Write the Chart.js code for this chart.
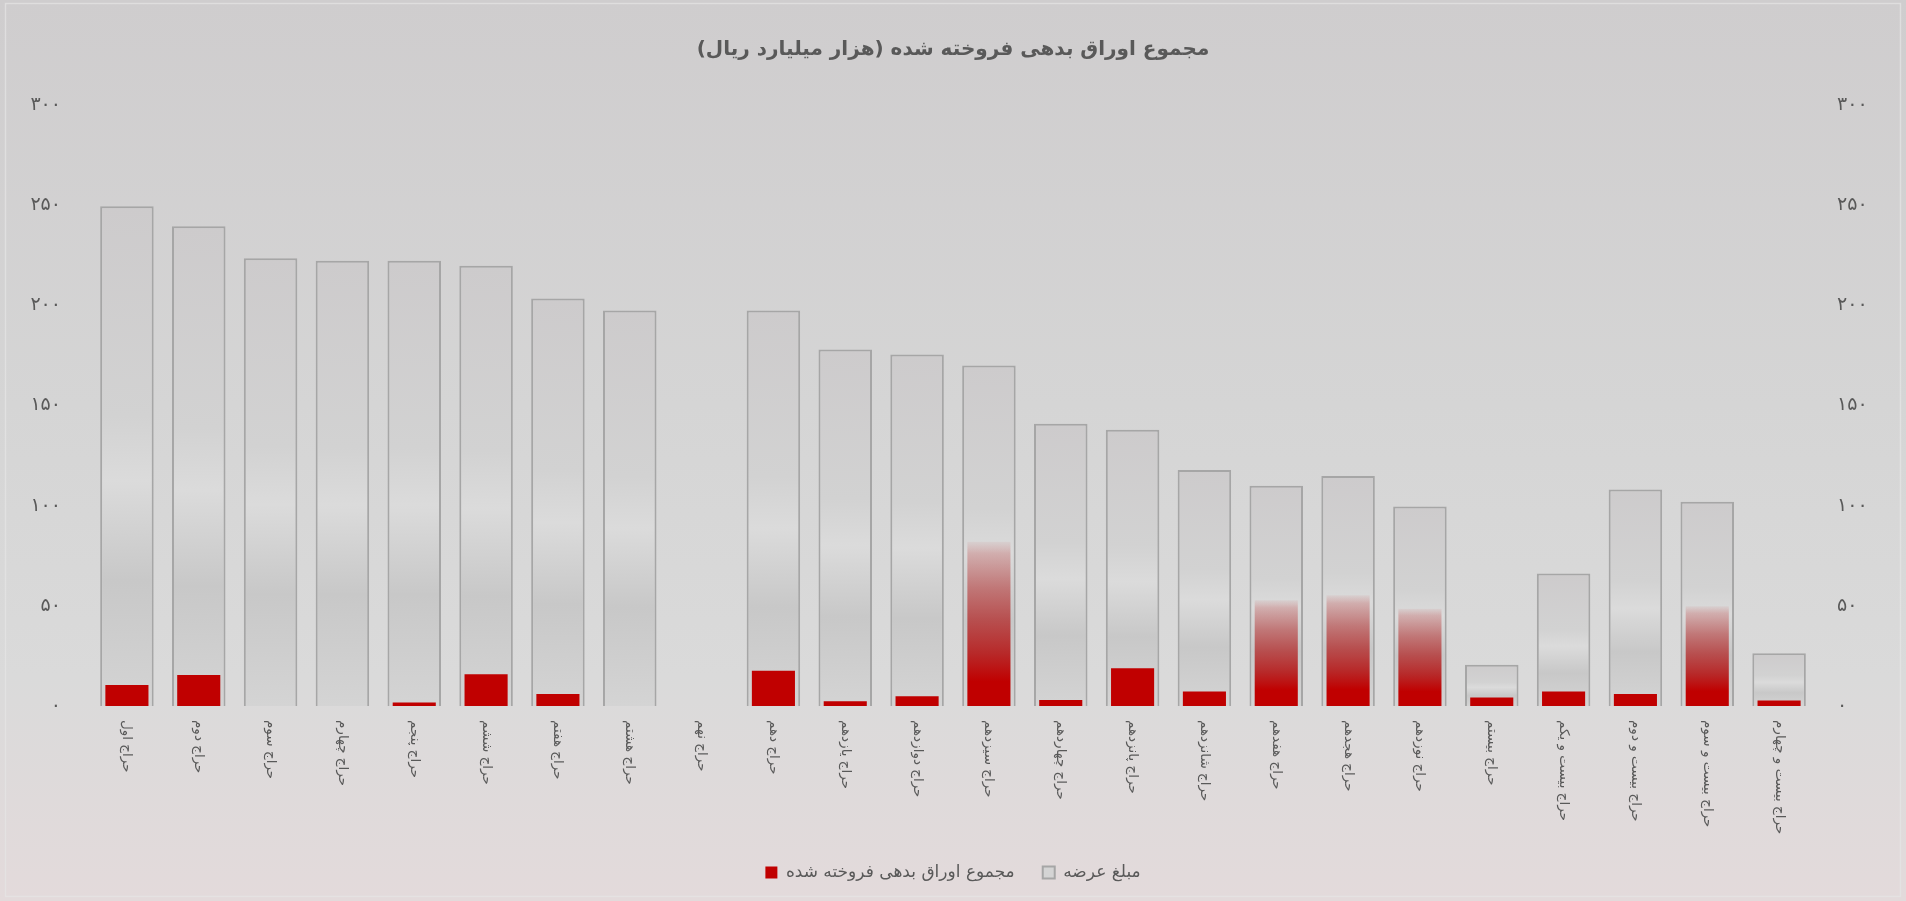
<!DOCTYPE html>
<html lang="fa">
<head>
    <meta charset="UTF-8">
    <title>مجموع اوراق بدهی فروخته شده</title>
    <script src="https://cdn.jsdelivr.net/npm/chart.js"></script>
    <style>
        body {
            margin: 0;
            padding: 0;
            background: #d6d5d5;
        }
        .container {
            width: 1906px;
            height: 901px;
        }
    </style>
</head>
<body>
    <div class="container">
        <canvas id="bondChart"></canvas>
    </div>

    <script>
        // auction names
        const categories = [
            'حراج اول', 'حراج دوم', 'حراج سوم', 'حراج چهارم', 'حراج پنجم', 'حراج ششم',
            'حراج هفتم', 'حراج هشتم', 'حراج نهم', 'حراج دهم', 'حراج یازدهم', 'حراج دوازدهم',
            'حراج سیزدهم', 'حراج چهاردهم', 'حراج پانزدهم', 'حراج شانزدهم', 'حراج هفدهم', 'حراج هجدهم',
            'حراج نوزدهم', 'حراج بیستم', 'حراج بیست و یکم', 'حراج بیست و دوم', 'حراج بیست و سوم', 'حراج بیست و چهارم'
        ];

        // مبلغ عرضه
        const offeredValues = [
            249.5, 239.5, 223.5, 222.3, 222.3, 219.8, 203.4, 197.4, null, 197.4, 177.9, 175.5,
            170, 140.9, 137.9, 117.8, 109.9, 114.8, 99.6, 20.6, 66.2, 108.1, 102, 26.3
        ];

        // مجموع اوراق بدهی فروخته شده
        const soldValues = [
            10.5, 15.5, 0, 0, 1.8, 15.8, 6, 0, 0, 17.6, 2.4, 4.9,
            82, 3, 18.8, 7.3, 52.8, 55.3, 48.6, 4.3, 7.3, 6, 49.8, 2.7
        ];

        const yTickLabels = ['۰', '۵۰', '۱۰۰', '۱۵۰', '۲۰۰', '۲۵۰', '۳۰۰'];

        const faFont = '"DejaVu Sans", "Noto Sans", sans-serif';
        const textColor = '#595959';

        function grayFill(c) {
            const chart = c.chart;
            if (c.type !== 'data' || !chart.chartArea || c.raw == null) return '#d0d0d0';
            const y = chart.scales.y;
            const top = y.getPixelForValue(c.raw);
            const bottom = y.getPixelForValue(0);
            const g = chart.ctx.createLinearGradient(0, top, 0, bottom);
            g.addColorStop(0, '#cdcbcc');
            g.addColorStop(0.42, '#d2d2d2');
            g.addColorStop(0.55, '#dbdbdb');
            g.addColorStop(0.75, '#c8c8c8');
            g.addColorStop(1, '#d4d4d4');
            return g;
        }

        function redFill(c) {
            const chart = c.chart;
            if (c.type !== 'data' || !chart.chartArea) return '#c00000';
            // the taller bars fade out towards their top
            if (c.raw < 30) return '#c00000';
            const y = chart.scales.y;
            const top = y.getPixelForValue(c.raw);
            const bottom = y.getPixelForValue(0);
            const g = chart.ctx.createLinearGradient(0, bottom, 0, top);
            g.addColorStop(0, 'rgba(192,0,0,1)');
            g.addColorStop(0.15, 'rgba(192,0,0,1)');
            g.addColorStop(0.32, 'rgba(180,14,14,0.86)');
            g.addColorStop(0.51, 'rgba(176,24,24,0.7)');
            g.addColorStop(0.72, 'rgba(176,30,30,0.5)');
            g.addColorStop(0.93, 'rgba(180,40,40,0.25)');
            g.addColorStop(1, 'rgba(190,60,60,0.06)');
            return g;
        }

        const backgroundPlugin = {
            id: 'background',
            beforeDraw(chart) {
                const ctx = chart.ctx;
                const g = ctx.createLinearGradient(0, 0, 0, chart.height);
                g.addColorStop(0, '#cfcdce');
                g.addColorStop(0.45, '#d5d5d5');
                g.addColorStop(0.75, '#dadada');
                g.addColorStop(1, '#e3dadb');
                ctx.save();
                ctx.fillStyle = g;
                ctx.fillRect(0, 0, chart.width, chart.height);
                ctx.strokeStyle = 'rgba(230,230,230,0.7)';
                ctx.lineWidth = 1.5;
                ctx.strokeRect(5.5, 3.5, chart.width - 11, chart.height - 8);
                ctx.restore();
            }
        };

        // x labels are turned clockwise, so they read downward from the axis
        const xLabelPlugin = {
            id: 'xLabels',
            afterDraw(chart) {
                const ctx = chart.ctx;
                const xScale = chart.scales.x;
                const top = chart.chartArea.bottom + 14;
                ctx.save();
                ctx.fillStyle = textColor;
                ctx.font = '13.5px ' + faFont;
                ctx.textAlign = 'left';
                ctx.textBaseline = 'middle';
                categories.forEach((label, i) => {
                    const x = xScale.getPixelForTick(i);
                    ctx.save();
                    ctx.translate(x, top);
                    ctx.rotate(Math.PI / 2);
                    ctx.fillText(label, 0, 0);
                    ctx.restore();
                });
                ctx.restore();
            }
        };

        const yTicks = {
            stepSize: 50,
            color: textColor,
            font: { family: faFont, size: 19 },
            callback: (value) => yTickLabels[value / 50]
        };

        const ctx = document.getElementById('bondChart').getContext('2d');
        const bondChart = new Chart(ctx, {
            type: 'bar',
            data: {
                labels: categories,
                datasets: [
                    {
                        label: 'مجموع اوراق بدهی فروخته شده',
                        data: soldValues,
                        backgroundColor: redFill,
                        borderWidth: 0,
                        barPercentage: 0.6,
                        categoryPercentage: 1,
                        grouped: false,
                        order: 0
                    },
                    {
                        label: 'مبلغ عرضه',
                        data: offeredValues,
                        backgroundColor: grayFill,
                        borderColor: '#a6a6a6',
                        borderWidth: 2,
                        borderSkipped: 'bottom',
                        barPercentage: 0.745,
                        categoryPercentage: 1,
                        grouped: false,
                        order: 1
                    }
                ]
            },
            options: {
                responsive: true,
                maintainAspectRatio: false,
                animation: false,
                layout: { padding: { left: 0, right: 0, top: 0, bottom: 10 } },
                plugins: {
                    title: {
                        display: true,
                        text: 'مجموع اوراق بدهی فروخته شده (هزار میلیارد ریال)',
                        color: textColor,
                        font: { family: faFont, size: 20, weight: 'bold' },
                        padding: { top: 38, bottom: 43 }
                    },
                    legend: {
                        position: 'bottom',
                        labels: {
                            color: textColor,
                            font: { family: faFont, size: 17 },
                            boxWidth: 12,
                            boxHeight: 12,
                            padding: 28
                        }
                    },
                    tooltip: { enabled: false }
                },
                scales: {
                    x: {
                        grid: { display: false, drawTicks: false },
                        border: { display: false },
                        ticks: { display: false },
                        afterFit(scale) { scale.height = 130; }
                    },
                    y: {
                        position: 'left',
                        min: 0,
                        max: 300,
                        grid: { display: false, drawTicks: false },
                        border: { display: false },
                        ticks: Object.assign({ padding: 30 }, yTicks),
                        afterFit(scale) { scale.width = 91; }
                    },
                    y2: {
                        position: 'right',
                        min: 0,
                        max: 300,
                        grid: { display: false, drawTicks: false },
                        border: { display: false },
                        ticks: Object.assign({ padding: 22 }, yTicks),
                        afterFit(scale) { scale.width = 91; }
                    }
                }
            },
            plugins: [backgroundPlugin, xLabelPlugin]
        });
    </script>
</body>
</html>
